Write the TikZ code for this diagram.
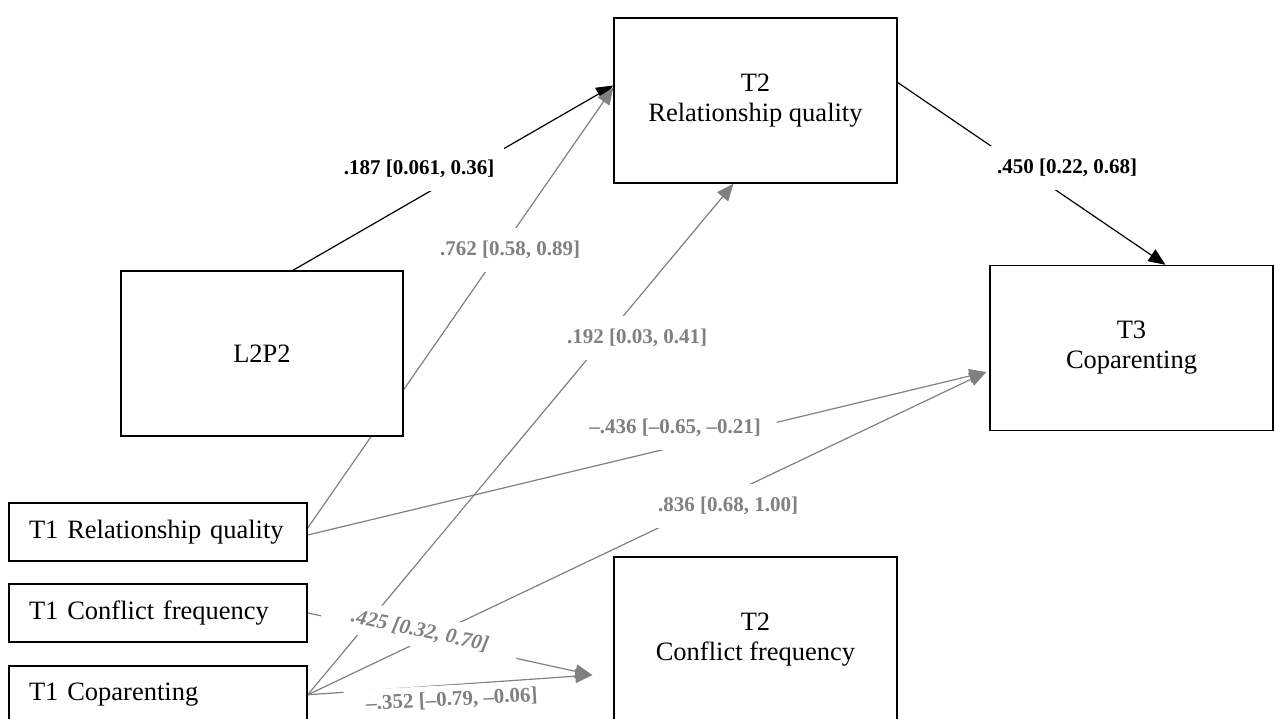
\documentclass[tikz,border=0pt]{standalone}
\usepackage{fontspec}
\setmainfont{Liberation Serif}
\usepackage{tikz}
\usetikzlibrary{backgrounds}
\usetikzlibrary{shapes,arrows.meta,positioning}
\tikzstyle{line} = [draw, line width=1.2pt, -{Triangle[length=17pt,width=14pt]}]
\tikzstyle{gline} = [line, draw=gray]
\tikzstyle{bigbox} = [rectangle, draw, fill=white, line width=1.4pt, minimum width=283pt, minimum height=165pt, align=center, font=\fontsize{26.5}{30}\selectfont]
\tikzstyle{smallbox} = [rectangle, draw, fill=white, line width=1.4pt, text width=258pt, inner xsep=20pt, minimum height=58pt, align=left, font=\fontsize{26.5}{30}\selectfont]
\tikzstyle{coef} = [fill=white, inner xsep=10pt, inner ysep=13pt, font=\fontsize{21}{24}\selectfont\bfseries]
\tikzstyle{gcoef} = [coef, text=gray]

\begin{document}
\begin{tikzpicture}[x=1pt, y=-1pt]
	\useasboundingbox (0,0) rectangle (1274,719);

	\node [bigbox] (t2rq) at (755.5,100.5) {T2\\Relationship quality};
	\node [bigbox] (t3cop) at (1131.5,348) {T3\\Coparenting};
	\node [bigbox, minimum width=282pt] (l2p2) at (262,353.5) {L2P2};
	\node [bigbox] (t2cf) at (755.5,639.5) {T2\\Conflict frequency};

	\node [smallbox] (t1rq) at (158,532) {T1 Relationship quality};
	\node [smallbox, below=21.5pt of t1rq] (t1cf) {T1 Conflict frequency};
	\node [smallbox, below=22.5pt of t1cf] (t1cop) {T1 Coparenting};

	\begin{scope}[on background layer]
		% black paths
		\path [line] ([xshift=31pt]l2p2.north) to ([yshift=15pt]t2rq.west);
		\path [line] ([yshift=18pt]t2rq.east) to ([xshift=34pt]t3cop.north);
		% grey paths
		\path [gline] ([yshift=4pt]t1rq.east) to ([yshift=13pt]t2rq.west);
		\path [gline] (t1cop.east) to ([xshift=-22pt]t2rq.south);
		\path [gline] ([yshift=-3pt]t1rq.east) to ([xshift=-3pt,yshift=-24pt]t3cop.west);
		\path [gline] (t1cop.east) to ([xshift=-3pt,yshift=-24pt]t3cop.west);
		\path [gline] (t1cf.east) to ([xshift=-21pt,yshift=-35.5pt]t2cf.west);
		\path [gline] (t1cop.east) to ([xshift=-21pt,yshift=-35.5pt]t2cf.west);
	\end{scope}

	\node [coef] (c187) at (419,169) {.187 [0.061, 0.36]};
	\node [coef] (c450) at (1067,168) {.450 [0.22, 0.68]};
	\node [gcoef] (c762) at (510,250) {.762 [0.58, 0.89]};
	\node [gcoef] (c192) at (637,338) {.192 [0.03, 0.41]};
	\node [gcoef, inner xsep=16pt] (c436) at (675,428) {--.436 [--0.65, --0.21]};
	\node [gcoef] (c836) at (728,506) {.836 [0.68, 1.00]};
	\node [gcoef, inner xsep=30pt, inner ysep=8pt, rotate=-12, font=\fontsize{21}{24}\selectfont\bfseries\itshape] (c425) at (420,631) {.425 [0.32, 0.70]};
	\node [gcoef, inner xsep=22pt, inner ysep=6pt, rotate=3] (c352) at (452,700) {--.352 [--0.79, --0.06]};

\end{tikzpicture}
\end{document}
